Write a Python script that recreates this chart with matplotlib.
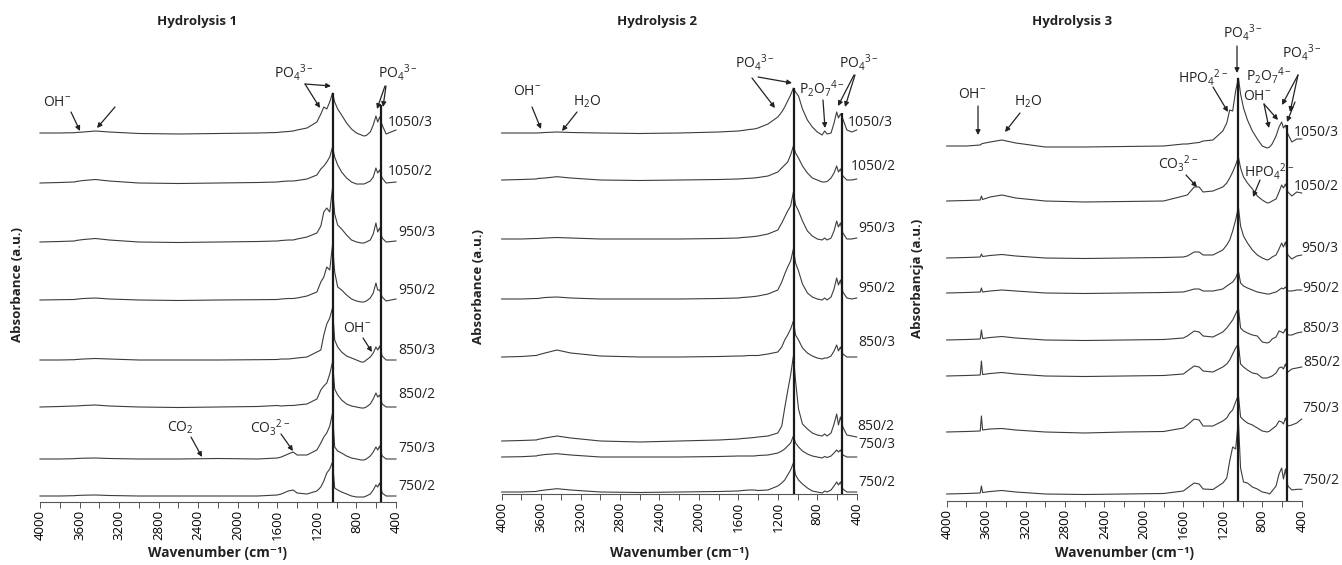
import matplotlib
matplotlib.use('Agg')
import matplotlib.pyplot as plt
from matplotlib.ticker import MultipleLocator
import numpy as np

plt.rcParams['font.family'] = ['Open Sans', 'DejaVu Sans']
plt.rcParams['mathtext.fontset'] = 'custom'
plt.rcParams['mathtext.rm'] = 'Open Sans'
plt.rcParams['mathtext.bf'] = 'Open Sans:bold'

W, H = 1342, 565

# --- data: wavenumber grid (cm-1) and absorbance (a.u.)
wavenumber = [4000, 3800, 3660, 3648, 3636, 3560, 3440, 3300, 3000, 2600, 2200, 1800,
              1600, 1560, 1490, 1440, 1400, 1300, 1200, 1160, 1130, 1100, 1070, 1042,
              1020, 990, 950, 900, 850, 800, 750, 725, 700, 660, 630, 603, 585, 565,
              540, 500, 450, 400]
samples = ['1050/3', '1050/2', '950/3', '950/2', '850/3', '850/2', '750/3', '750/2']

# Hydrolysis 1
h1_1050_3 = [0, 0, 0.3, 0.3, 0.5, 1, 2, 1, -0.5, -1, -0.5, 0, 0.5, 1, 1.5, 2, 3, 5,
             11, 19, 26, 24, 31, 40, 31, 24, 18, 10, 4, 0, -2, -3, -2.5, 1, 8, 17, 11, 16, 8, -1, 1, 3]
h1_1050_2 = [0, 0.5, 1, 1, 1.5, 2.5, 3.5, 2, 0, -0.5, 0, 0.5, 1, 1.5, 2, 2, 2.5, 4,
             8, 14, 17, 21, 26, 36, 26, 18, 11, 5, 1, -1, -1, -1, 0, 2, 6, 15, 10, 13, 5, 0, 0.5, 1]
h1_950_3 = [0, 0.5, 1, 1, 1.5, 2.5, 3.5, 2, 0, -0.5, 0, 0.5, 1, 1.5, 2, 2, 3, 5,
            9, 16, 30, 34, 30, 54, 28, 17, 13, 7, 2, 0, -1, -1, 0, 2, 8, 19, 10, 14, 4, 0, 0.5, 1]
h1_950_2 = [0, 0.3, 0.5, 0.5, 0.8, 1.5, 2, 1, 0, -0.5, 0, 0.3, 0.5, 1, 1.5, 1.5, 2, 4,
            8, 18, 23, 33, 30, 55, 28, 13, 10, 5, 1, -1, -2, -2, -1, 2, 7, 17, 10, 10, 3, -1, 0, 1]
h1_850_3 = [0, 0, 0.3, 0.3, 0.5, 1, 1.5, 1, 0, 0, 0, 0.3, 0.5, 1, 1, 1.5, 2, 3,
            8, 10, 25, 36, 42, 52, 20, 13, 8, 4, 2, 0, -2, -2, 0, 3, 7, 13, 10, 14, 4, 0, 0, 0]
h1_850_2 = [0, 0.5, 1, 1, 1, 1.5, 2, 1, 0, -0.5, 0, 0.5, 1.5, 1, 1.5, 1.5, 2, 3,
            8, 17, 21, 24, 33, 45, 18, 12, 7, 3, 1, 0, -1, -1, 0, 3, 8, 14, 10, 12, 3, 0, 0, 0]
h1_750_3 = [0, 0, 0.3, 0.3, 0.5, 0.8, 1, 0.5, 0, 0, 0.5, 0, 1, 2, 5, 7, 4, 4,
            9, 16, 22, 26, 33, 46, 12, 8, 6, 3, 1, 0, -1, -1, 0, 3, 7, 12, 9, 13, 3, 0, 0, 0]
h1_750_2 = [0, 0, 0.3, 0.3, 0.5, 0.8, 1, 0.5, 0, 0, 0, 0, 1, 2, 5, 6, 3, 2,
            5, 9, 15, 23, 27, 34, 8, 6, 4, 2, 0, -1, -1, -1, 0, 2, 6, 11, 9, 13, 3, 0, 0, 0]

# Hydrolysis 2
h2_1050_3 = [0, 0, 0, 0, 0, 0.5, 1, 0.5, 0, -0.5, 0, 1, 2, 2.5, 3.5, 4, 5, 9,
             16, 21, 26, 32, 38, 45, 41, 37, 24, 13, 6, 1, -2, 2, -1, 0, 10, 21, 15, 19, 14, 3, 1, 3]
h2_1050_2 = [0, 0.5, 1, 1, 1.5, 2, 3.3, 2, 0, -0.5, 0, 0.5, 1, 1.3, 1.7, 2, 2.5, 4,
             8, 12, 15, 18, 25, 34, 27, 22, 14, 7, 2, 0, -2, -2, -1.5, 2, 7, 14, 8, 11, 4, 0, 0, 1]
h2_950_3 = [0, 0, 0.5, 0.5, 0.5, 1, 1.5, 1, 0, 0, 0, 0.5, 1, 1.5, 2, 2.5, 3, 5,
            9, 16, 22, 28, 33, 47, 34, 28, 18, 8, 3, 0, -1, 1, -1, 1, 8, 18, 12, 16, 6, 0, 0, 1]
h2_950_2 = [0, 0, 0.5, 0.5, 0.5, 1.5, 2, 1, 0, 0, 0, 0.5, 1, 1.5, 2, 2.5, 3, 5,
            9, 17, 25, 32, 38, 50, 36, 28, 15, 6, 2, 0, -1, 1, -1, 2, 10, 21, 14, 19, 7, 1, 0, 1]
h2_850_3 = [0, 0.5, 1.5, 1.5, 2, 4, 7, 4, 1, 0, 0, 0.5, 1, 1, 1.5, 1.5, 1.5, 3,
            5, 10, 17, 22, 28, 36, 22, 17, 9, 4, 1, -1, -2, -1, -1, 1, 6, 12, 6, 10, 3, 0, 0, 0]
h2_850_2 = [0, 0.5, 1, 1, 1.5, 3, 5, 3, 0, -1, 0, 1, 2, 2.5, 3, 3.5, 4, 5,
            8, 15, 33, 50, 66, 85, 60, 32, 17, 12, 8, 6, 5, 7, 5, 8, 17, 27, 16, 24, 14, 6, 5, 4]
h2_750_3 = [0, 0.3, 1, 1, 1.5, 2.5, 3.3, 2, 0, 0, 0, 0.5, 1, 1, 1, 1, 1.5, 2,
            4, 6, 8, 11, 14, 21, 14, 10, 6, 3, 1, 0, -1, 0.5, -0.5, 1, 4, 7, 5, 7, 2, 0, 0, 0]
h2_750_2 = [0, 0, 0.5, 0.5, 1, 2, 3.3, 2, 0, -0.5, 0, 0.5, 1, 1.5, 2, 2, 1.5, 2,
            6, 9, 12, 17, 22, 29, 17, 12, 8, 4, 1, 0, -1, 1, 0, 2, 6, 10, 7, 10, 3, 0, 0, 0]

# Hydrolysis 3
h3_1050_3 = [0, 0, 1, 2, 2.5, 4, 6, 3, -1, -1, -0.5, 0, 2, 2, 3, 3.5, 5, 6,
             15, 23, 36, 35, 55, 68, 52, 38, 26, 15, 7, 0, -2, -1, 2, 10, 19, 24, 18, 21, 12, 4, 7, 7]
h3_1050_2 = [0, 0.5, 1, 5, 1.5, 4, 6, 3, 0, -1, -0.5, 0, 5, 6, 14, 14, 9, 10,
             14, 18, 23, 29, 36, 44, 33, 24, 18, 12, 5, 1, -2, -1.5, 0, 2, 9, 16, 13, 17, 9, 5, 9, 8]
h3_950_3 = [0, 0.5, 1, 4, 1.5, 2.5, 3.5, 2, 0, -0.5, 0, 0.5, 1, 2, 6, 6, 3, 3,
            8, 13, 18, 27, 38, 51, 32, 22, 15, 8, 3, 0, -2, -1, 1, 3, 9, 15, 11, 16, 3, -1, 2, 3]
h3_950_2 = [0, 0.5, 1, 5, 1, 2, 3, 2, 0, -0.5, 0, 0.5, 1, 2, 4, 4, 2, 2,
            4, 7, 9, 11, 15, 22, 10, 7, 5, 3, 1, 0, -1, -1, 0, 1, 3, 5, 4, 6, 2, 2, 3, 3]
h3_850_3 = [0, 0.5, 1, 10, 1.5, 2.5, 3.5, 2, 0, -0.5, 0, 0.5, 2, 4, 9, 8, 4, 3,
            8, 12, 16, 20, 26, 32, 12, 9, 7, 5, 4, -2, -3, -2, 1, 3, 9, 8, 7, 11, 5, 5, 7, 8]
h3_850_2 = [0, 0.5, 1, 15, 1.5, 2.5, 3.5, 2, 0, -0.5, 0, 0.5, 2, 5, 10, 9, 5, 4,
            9, 12, 16, 22, 28, 32, 12, 9, 6, 3, 2, -2, -2, -1, 0, 3, 8, 9, 7, 12, 4, 7, 8, 9]
h3_750_3 = [0, 0.5, 1, 16, 2, 3, 3.5, 2, 0, -1, 0, 0.5, 4, 7, 13, 12, 6, 6,
            11, 14, 19, 22, 30, 37, 15, 12, 9, 7, 4, 1, 0, 1, 3, 6, 11, 10, 8, 14, 6, 7, 9, 13]
h3_750_2 = [0, 0.5, 1, 8, 1.5, 2.5, 3.5, 2, 0, -0.5, 0, 0.5, 3, 6, 11, 10, 5, 4.5,
            11, 16, 33, 47, 45, 73, 26, 12, 11, 7, 5, 2, 1, 0, 3, 8, 20, 26, 15, 25, 8, 4, 4.7, 4.7]

band_lines1 = [1042, 555]
band_lines2 = [1035, 550]
band_lines3 = [1043, 553]

# --- layout (reference pixel coordinates)
panels = [
    dict(title='Hydrolysis 1', title_x=197, ylabel='Absorbance (a.u.)', ylabel_xy=(18, 285),
         x0=40, x1=396, axis_y=502,
         spectra=[h1_1050_3, h1_1050_2, h1_950_3, h1_950_2, h1_850_3, h1_850_2, h1_750_3, h1_750_2],
         baselines=[133, 183, 242, 300, 360, 407, 459, 496],
         labels=[(388, 123), (388, 172), (398, 232), (398, 290), (398, 350), (398, 395), (398, 448), (398, 487)],
         bands=band_lines1, band_tops=[93, 105]),
    dict(title='Hydrolysis 2', title_x=657, ylabel='Absorbance (a.u.)', ylabel_xy=(478, 287),
         x0=501.7, x1=856.7, axis_y=494,
         spectra=[h2_1050_3, h2_1050_2, h2_950_3, h2_950_2, h2_850_3, h2_850_2, h2_750_3, h2_750_2],
         baselines=[133, 180, 239, 299, 357, 441, 457, 492],
         labels=[(848, 123), (851, 167), (858, 228), (858, 288), (858, 342), (857, 427), (858, 445), (858, 483)],
         bands=band_lines2, band_tops=[88, 113]),
    dict(title='Hydrolysis 3', title_x=1072, ylabel='Absorbancja (a.u.)', ylabel_xy=(918, 278),
         x0=946.7, x1=1301.7, axis_y=501,
         spectra=[h3_1050_3, h3_1050_2, h3_950_3, h3_950_2, h3_850_3, h3_850_2, h3_750_3, h3_750_2],
         baselines=[146, 201, 258, 293, 340, 376, 432, 494],
         labels=[(1294, 132), (1294, 187), (1301, 248), (1302, 289), (1302, 328), (1303, 363), (1302, 408), (1302, 480)],
         bands=band_lines3, band_tops=[78, 125]),
]

PO4 = r'PO$\mathregular{_4{}^{3-}}$'
OH = r'OH$\mathregular{^{-}}$'
H2O = r'H$\mathregular{_2}$O'
P2O7 = r'P$\mathregular{_2}$O$\mathregular{_7{}^{4-}}$'
HPO4 = r'HPO$\mathregular{_4{}^{2-}}$'
CO3 = r'CO$\mathregular{_3{}^{2-}}$'
CO2 = r'CO$\mathregular{_2}$'

# (text, text centre, [(tail, tip), ...])
notes = [
    (OH, (57, 103), [((71, 112), (80, 131)), ((115, 107), (97, 128))]),
    (PO4, (294, 72), [((305, 84), (331, 86)), ((305, 84), (320, 108))]),
    (PO4, (398, 72), [((385, 86), (377, 109)), ((386, 86), (383, 107))]),
    (OH, (357, 328), [((363, 338), (372, 352))]),
    (CO2, (180, 428), [((191, 437), (202, 457))]),
    (CO3, (270, 427), [((281, 434), (293, 451))]),
    (OH, (527, 92), [((532, 107), (541, 129))]),
    (H2O, (587, 102), [((577, 112), (562, 131))]),
    (PO4, (755, 62), [((752, 78), (775, 108)), ((758, 77), (792, 83))]),
    (P2O7, (822, 88), [((823, 100), (825, 128))]),
    (PO4, (859, 62), [((854, 75), (838, 106)), ((855, 75), (845, 107))]),
    (OH, (972, 94), [((978, 106), (978, 135))]),
    (H2O, (1028, 102), [((1020, 113), (1005, 132))]),
    (PO4, (1243, 32), [((1237, 46), (1237, 73))]),
    (HPO4, (1203, 77), [((1213, 87), (1228, 112))]),
    (P2O7, (1269, 76), []),
    (OH, (1257, 96), [((1264, 104), (1269, 128)), ((1264, 104), (1278, 120))]),
    (PO4, (1302, 52), [((1298, 75), (1282, 105)), ((1298, 75), (1290, 112)), ((1295, 102), (1287, 122))]),
    (CO3, (1178, 163), [((1186, 175), (1197, 187))]),
    (HPO4, (1269, 172), [((1260, 180), (1253, 197))]),
]

fig = plt.figure(figsize=(W / 100, H / 100), dpi=100)

line_col = '#3c3c3c'
for p in panels:
    ax = fig.add_axes([p['x0'] / W, (H - p['axis_y']) / H, (p['x1'] - p['x0']) / W, p['axis_y'] / H])
    ax.set_xlim(4000, 400)
    ax.set_ylim(H - p['axis_y'], H)
    for h, base in zip(p['spectra'], p['baselines']):
        ax.plot(wavenumber, np.array(h) + (H - base), color=line_col, lw=0.8, clip_on=False)
    for w, top in zip(p['bands'], p['band_tops']):
        ax.vlines(w, H - p['axis_y'], H - top, color='#1a1a1a', lw=1.6)
    for s, (lx, ly) in zip(samples, p['labels']):
        fig.text(lx / W, 1 - ly / H, s, fontsize=10, ha='left', va='center', color='#222222')
    for side in ['left', 'right', 'top']:
        ax.spines[side].set_visible(False)
    ax.spines['bottom'].set_color('#555555')
    ax.spines['bottom'].set_linewidth(0.8)
    ax.set_yticks([])
    ax.set_xticks(np.arange(4000, 399, -400))
    ax.xaxis.set_minor_locator(MultipleLocator(200))
    ax.tick_params(axis='x', which='both', direction='out', length=4, width=0.7,
                   color='#555555', labelsize=9.5, labelrotation=90, pad=2)
    ax.patch.set_alpha(0)
    cx = (p['x0'] + p['x1']) / 2
    fig.text(cx / W, 1 - 553 / H, 'Wavenumber (cm⁻¹)', fontsize=10, fontweight='bold',
             ha='center', va='center', color='#222222')
    fig.text(p['title_x'] / W, 1 - 22 / H, p['title'], fontsize=9.5, fontweight='bold',
             ha='center', va='center', color='#222222')
    fig.text(p['ylabel_xy'][0] / W, 1 - p['ylabel_xy'][1] / H, p['ylabel'], fontsize=9.5,
             fontweight='bold', rotation=90, ha='center', va='center', color='#222222')

for txt, (tx, ty), arrows in notes:
    fig.text(tx / W, 1 - ty / H, txt, fontsize=10, ha='center', va='center', color='#222222')
    for (ax0, ay0), (ax1, ay1) in arrows:
        fig.add_artist(matplotlib.patches.FancyArrowPatch(
            (ax0 / W, 1 - ay0 / H), (ax1 / W, 1 - ay1 / H), transform=fig.transFigure,
            arrowstyle='-|>', mutation_scale=7, lw=0.9, color='#222222',
            shrinkA=0, shrinkB=0))

fig.savefig('out.png', dpi=100)
